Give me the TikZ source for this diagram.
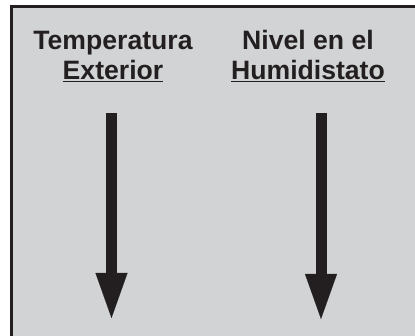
\documentclass[tikz,border=0pt]{standalone}
\usepackage{fontspec}
\setmainfont{Liberation Sans}
\usetikzlibrary{arrows.meta}
\definecolor{panelgray}{HTML}{D1D3D4}
\definecolor{inkblack}{HTML}{231F20}
\begin{document}
\begin{tikzpicture}[x=1pt,y=-1pt,
  lbl/.style={font=\fontsize{26.6}{30}\selectfont\bfseries, text=inkblack, inner sep=0pt, anchor=base},
  bigarrow/.style={draw=inkblack, line width=11pt, -{Triangle[width=32pt,length=45pt,line width=0.1pt]}, inkblack}]
\useasboundingbox (0,0) rectangle (415,336);
\clip (0,0) rectangle (415,336);
\fill[white] (0,0) rectangle (415,336);
\draw[fill=panelgray, draw=inkblack, line width=2.6pt] (11.3,6.3) rectangle (430,350);
\node[lbl] (t1) at (113,50) {Temperatura};
\node[lbl] (t2) at (113,80) {\underline{Exterior}};
\node[lbl] (h1) at (308,50) {Nivel en el};
\node[lbl] (h2) at (308,80) {\underline{Humidistato}};
\coordinate (s1) at (111.5,113);
\coordinate (e1) at (111.5,318);
\coordinate (s2) at (321,113);
\coordinate (e2) at (321,319);
\draw[bigarrow] (s1) -- (e1);
\draw[bigarrow] (s2) -- (e2);
\end{tikzpicture}
\end{document}
